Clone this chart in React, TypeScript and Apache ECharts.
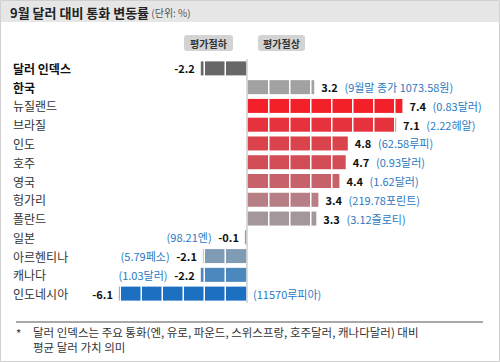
import React, { useEffect, useRef } from "react";
import * as echarts from "echarts";

const categories = ["달러 인덱스", "한국", "뉴질랜드", "브라질", "인도", "호주", "영국", "헝가리", "폴란드", "일본", "아르헨티나", "캐나다", "인도네시아"];
const values = [-2.2, 3.2, 7.4, 7.1, 4.8, 4.7, 4.4, 3.4, 3.3, -0.1, -2.1, -2.2, -6.1];
const notes = ["", "(9월말 종가 1073.58원)", "(0.83달러)", "(2.22헤알)", "(62.58루피)", "(0.93달러)", "(1.62달러)", "(219.78포린트)", "(3.12즐로티)", "(98.21엔)", "(5.79페소)", "(1.03달러)", "(11570루피아)"];
const colors = ["#676767", "#a2a2a2", "#f3202a", "#e6323c", "#da434c", "#d34d56", "#c8626a", "#b77e85", "#a3979b", "#8a9fb2", "#7f9cb4", "#4a88bd", "#1c6fc1"];
const boldRows = [0, 1];

const FONT = "'Noto Sans CJK KR', 'Noto Sans', sans-serif";

export default function App() {
  const ref = useRef<HTMLDivElement>(null);
  useEffect(() => {
    document.body.style.margin = "0";
    const chart = echarts.init(ref.current!, null, { renderer: "svg" });
    const data = values.map((v, i) => [v, i]);
    chart.setOption({
      animation: false,
      backgroundColor: "#ffffff",
      textStyle: { fontFamily: FONT },
      grid: { left: 37, right: 43, top: 59, bottom: 59 },
      xAxis: { type: "value", min: -10, max: 10, show: false },
      yAxis: {
        type: "category",
        data: categories,
        inverse: true,
        axisLine: { show: false },
        axisTick: { show: false },
        axisLabel: {
          align: "left",
          margin: 24,
          formatter: (v: string, i: number) => (boldRows.includes(i) ? `{b|${v}}` : `{n|${v}}`),
          rich: {
            b: { fontFamily: FONT, fontSize: 12, fontWeight: "bold", color: "#111" },
            n: { fontFamily: FONT, fontSize: 12, color: "#333" },
          },
        },
      },
      graphic: [
        { type: "rect", shape: { x: 0.5, y: 0.5, width: 499, height: 361 }, style: { fill: "none", stroke: "#d0d0d0", lineWidth: 1 }, z: 0 },
        { type: "rect", shape: { x: 1, y: 1, width: 498, height: 21 }, style: { fill: "#e6e6e6" }, z: 1 },
        {
          type: "text", x: 10, y: 12, z: 2,
          style: { text: "{t|9월 달러 대비 통화 변동률}{u| (단위: %)}", verticalAlign: "middle", rich: {
            t: { fontFamily: FONT, fontSize: 13, fontWeight: "bold", fill: "#222" },
            u: { fontFamily: FONT, fontSize: 10, fill: "#555" },
          } },
        },
        { type: "rect", shape: { x: 184, y: 35, width: 49, height: 16, r: 3 }, style: { fill: "#d3d3d3" }, z: 1 },
        { type: "text", x: 208.5, y: 43, z: 2, style: { text: "평가절하", align: "center", verticalAlign: "middle", fontFamily: FONT, fontSize: 10, fontWeight: "bold", fill: "#333" } },
        { type: "rect", shape: { x: 258, y: 35, width: 47, height: 16, r: 3 }, style: { fill: "#d3d3d3" }, z: 1 },
        { type: "text", x: 281.5, y: 43, z: 2, style: { text: "평가절상", align: "center", verticalAlign: "middle", fontFamily: FONT, fontSize: 10, fontWeight: "bold", fill: "#333" } },
        { type: "line", shape: { x1: 16, y1: 322, x2: 483, y2: 322 }, style: { stroke: "#a8a8a8", lineWidth: 2 }, z: 1 },
        { type: "text", x: 16, y: 333, z: 2, style: { text: "*", verticalAlign: "middle", fontFamily: FONT, fontSize: 11.5, fill: "#333" } },
        { type: "text", x: 33, y: 332, z: 2, style: { text: "달러 인덱스는 주요 통화(엔, 유로, 파운드, 스위스프랑, 호주달러, 캐나다달러) 대비", verticalAlign: "middle", fontFamily: FONT, fontSize: 11.5, fill: "#333" } },
        { type: "text", x: 33, y: 347, z: 2, style: { text: "평균 달러 가치 의미", verticalAlign: "middle", fontFamily: FONT, fontSize: 11.5, fill: "#333" } },
      ],
      series: [
        {
          type: "custom",
          data,
          encode: { x: 0, y: 1 },
          markLine: {
            silent: true,
            symbol: "none",
            label: { show: false },
            lineStyle: { color: "#cfcfcf", type: "solid", width: 1.5 },
            data: [{ xAxis: 0 }],
          },
          renderItem: (params: any, api: any) => {
            const v = api.value(0) as number;
            const yi = api.value(1) as number;
            const idx = params.dataIndex;
            const c0 = api.coord([0, yi]);
            const unit = api.size([1, 0])[0];
            const y = c0[1];
            const bh = 14;
            const sign = v < 0 ? -1 : 1;
            const abs = Math.abs(v);
            const n = Math.ceil(abs - 1e-9);
            const children: any[] = [];
            for (let i = 0; i < n; i++) {
              const a = i * unit + (i === 0 ? 0.5 : 1.5);
              const b = Math.min(i + 1, abs) * unit;
              if (b - a <= 0.3) continue;
              const xa = c0[0] + sign * a;
              const xb = c0[0] + sign * b;
              children.push({
                type: "rect",
                shape: { x: Math.min(xa, xb), y: y - bh / 2, width: Math.abs(xb - xa), height: bh },
                style: { fill: colors[idx] },
              });
            }
            const end = c0[0] + sign * abs * unit;
            const rich = {
              v: { fontFamily: FONT, fontSize: 11, fontWeight: "bold", fill: "#111" },
              n: { fontFamily: FONT, fontSize: 11, fill: "#2a79c2" },
            };
            const note = notes[idx];
            const vs = v.toFixed(1);
            if (v >= 0) {
              children.push({
                type: "text", x: end + 7, y,
                style: { text: note ? `{v|${vs}}  {n|${note}}` : `{v|${vs}}`, verticalAlign: "middle", align: "left", rich },
              });
            } else if (abs > 5) {
              children.push({
                type: "text", x: end - 6, y,
                style: { text: `{v|${vs}}`, verticalAlign: "middle", align: "right", rich },
              });
              if (note) {
                children.push({
                  type: "text", x: c0[0] + 6, y,
                  style: { text: `{n|${note}}`, verticalAlign: "middle", align: "left", rich },
                });
              }
            } else {
              children.push({
                type: "text", x: end - 6, y,
                style: { text: note ? `{n|${note}}  {v|${vs}}` : `{v|${vs}}`, verticalAlign: "middle", align: "right", rich },
              });
            }
            return { type: "group", children };
          },
        },
      ],
    });
    return () => chart.dispose();
  }, []);
  return <div ref={ref} style={{ width: 500, height: 362 }} />;
}
